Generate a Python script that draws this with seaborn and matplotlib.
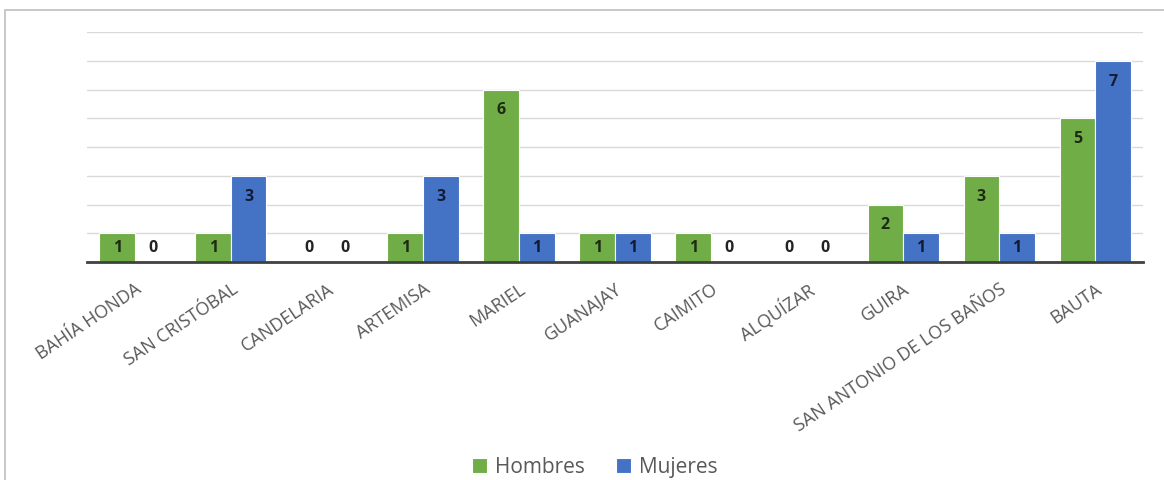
import numpy as np
import pandas as pd
import seaborn as sns
from matplotlib import pyplot as plt
from matplotlib.patches import Rectangle

sns.set_theme(style="white")
plt.rcParams['font.family'] = ['Open Sans', 'DejaVu Sans']

municipios = ["BAHÍA HONDA", "SAN CRISTÓBAL", "CANDELARIA", "ARTEMISA", "MARIEL",
              "GUANAJAY", "CAIMITO", "ALQUÍZAR", "GUIRA", "SAN ANTONIO DE LOS BAÑOS", "BAUTA"]
hombres = [1, 1, 0, 1, 6, 1, 1, 0, 2, 3, 5]
mujeres = [0, 3, 0, 3, 1, 1, 0, 0, 1, 1, 7]

df = pd.DataFrame({
    "Municipio": municipios * 2,
    "Sexo": ["Hombres"] * len(municipios) + ["Mujeres"] * len(municipios),
    "Cantidad": hombres + mujeres,
})

fig = plt.figure(figsize=(11.64, 4.8), dpi=100)
ax = fig.add_axes([0.0747, 0.454, 0.9073, 0.479])

sns.barplot(data=df, x="Municipio", y="Cantidad", hue="Sexo",
            palette={"Hombres": "#70AD47", "Mujeres": "#4472C4"}, saturation=1,
            width=0.74, gap=0, edgecolor="white", linewidth=0.8,
            errorbar=None, ax=ax, zorder=3)

ax.set_ylim(0, 8)
ax.set_yticks(range(1, 9))
ax.set_yticklabels([])
ax.tick_params(axis="y", length=0)
ax.grid(axis="y", color="#d9d9d9", linewidth=1, zorder=0)
for s in ["top", "right", "left"]:
    ax.spines[s].set_visible(False)
ax.spines["bottom"].set_color("#404040")
ax.spines["bottom"].set_linewidth(2)
ax.spines["bottom"].set_zorder(4)
ax.set_xlabel("")
ax.set_ylabel("")
ax.tick_params(axis="x", length=0, pad=13)
plt.setp(ax.get_xticklabels(), rotation=34, ha="right", rotation_mode="anchor",
         fontsize=13, color="#595959")

# value labels inside the bars, near the top
for cont, col in zip(ax.containers, ["#1e2a14", "#141c33"]):
    for bar in cont:
        v = bar.get_height()
        x = bar.get_x() + bar.get_width() / 2
        y = max(v - 0.72, 0.5)
        ax.text(x, y, f"{int(v)}", ha="center", va="center", fontsize=11.5,
                fontweight="bold", color=col if v > 0 else "#222222", zorder=5)

handles, labels = ax.get_legend_handles_labels()
ax.legend(handles, labels, loc="center", bbox_to_anchor=(0.511, 0.027),
          bbox_transform=fig.transFigure, ncol=2, frameon=False,
          handlelength=0.7, handleheight=0.7, handletextpad=0.4, columnspacing=1.5,
          fontsize=15, labelcolor="#595959")

# chart border
fig.add_artist(Rectangle((5 / 1164, -0.1), 1.2, 1 - 10 / 480 + 0.1,
                         transform=fig.transFigure, fill=False,
                         edgecolor="#bfbfbf", linewidth=1.2))

fig.savefig("out.png", dpi=100)
